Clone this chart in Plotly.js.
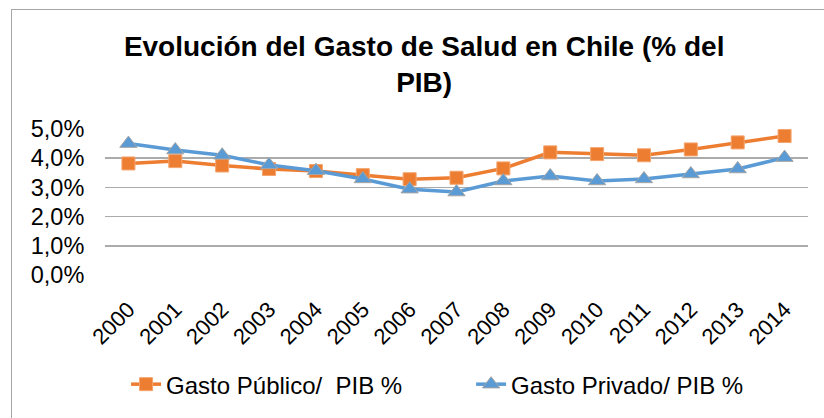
<!DOCTYPE html>
<html>
<head>
<meta charset="utf-8">
<script src="https://cdn.plot.ly/plotly-3.0.1.min.js"></script>
<style>
  html, body { margin: 0; padding: 0; background: #fff; }
  #wrap { position: relative; width: 824px; height: 418px; overflow: hidden; }
  #chart { position: absolute; left: 0; top: 0; width: 824px; height: 418px; }
  #frame { position: absolute; left: 11px; top: 9px; width: 830px; height: 430px;
           border: 1.5px solid #a6a6a6; pointer-events: none; box-sizing: border-box; }
</style>
</head>
<body>
<div id="wrap">
  <div id="chart"></div>
  <div id="frame"></div>
</div>
<script>
const years = ["2000","2001","2002","2003","2004","2005","2006","2007","2008","2009","2010","2011","2012","2013","2014"];
const gastoPublico = [0.0382,0.0390,0.0375,0.0363,0.0356,0.0342,0.0328,0.0333,0.0365,0.0420,0.0414,0.0410,0.0430,0.0454,0.0476];
const gastoPrivado = [0.0450,0.0428,0.0410,0.0377,0.0357,0.0329,0.0294,0.0284,0.0322,0.0339,0.0322,0.0329,0.0346,0.0363,0.0402];
const seriesNames = ["Gasto Público/\u00a0 PIB %", "Gasto Privado/ PIB %"];
const titleText = "Evolución del Gasto de Salud en Chile (% del<br>PIB)";

const FONT = "Liberation Sans, Arial, sans-serif";

const traces = [
  {
    x: years, y: gastoPublico, name: seriesNames[0], type: "scatter", mode: "lines+markers",
    line: { color: "#ED7D31", width: 3.5 },
    marker: { symbol: "square", size: 13, color: "#ED7D31", line: { color: "#F4A46E", width: 1 } }
  },
  {
    x: years, y: gastoPrivado, name: seriesNames[1], type: "scatter", mode: "lines+markers",
    line: { color: "#5B9BD5", width: 3.5 },
    marker: { symbol: "triangle-up", size: 15, color: "#5B9BD5", line: { color: "#A5A5A5", width: 1 } }
  }
];

const layout = {
  width: 824, height: 418,
  margin: { l: 105, r: 16, t: 129, b: 143, pad: 0 },
  paper_bgcolor: "#ffffff", plot_bgcolor: "#ffffff",
  separators: ",.",
  font: { family: FONT, color: "#000000", size: 22 },
  title: {
    text: titleText,
    font: { family: FONT, size: 28, color: "#000000", weight: "bold" },
    xref: "paper", x: 0.454, xanchor: "center",
    yref: "container", y: 0.866, yanchor: "top"
  },
  xaxis: {
    type: "category",
    range: [-0.5, 14.5],
    tickangle: -45,
    tickfont: { family: FONT, size: 22, color: "#000" },
    ticks: "outside", ticklen: 12, tickcolor: "rgba(0,0,0,0)",
    showgrid: false, showline: false, zeroline: false
  },
  yaxis: {
    range: [0, 0.05],
    dtick: 0.01, tick0: 0,
    tickformat: ".1%",
    tickfont: { family: FONT, size: 23.5, color: "#000" },
    ticks: "outside", ticklen: 15, tickcolor: "rgba(0,0,0,0)",
    showgrid: true, gridcolor: "#ABABAB", gridwidth: 1.5,
    zeroline: false, showline: false
  },
  showlegend: true,
  legend: {
    orientation: "h",
    xref: "paper", x: 0.03, xanchor: "left",
    yref: "container", y: 0.08, yanchor: "middle",
    font: { family: FONT, size: 24, color: "#000" },
    entrywidth: 300, entrywidthmode: "pixels",
    bgcolor: "rgba(0,0,0,0)"
  }
};

Plotly.newPlot("chart", traces, layout, { displayModeBar: false, staticPlot: true });
</script>
</body>
</html>
